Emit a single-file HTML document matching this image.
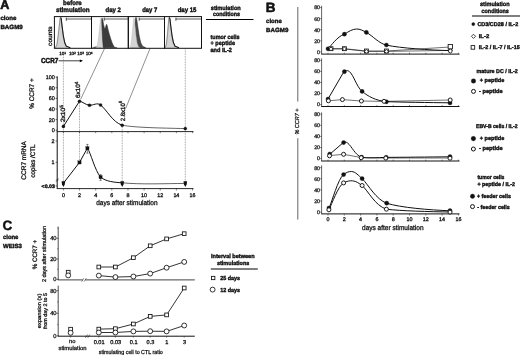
<!DOCTYPE html>
<html lang="en">
<head>
<meta charset="utf-8">
<title>CCR7 expression after stimulation</title>
<style>
html,body{margin:0;padding:0;background:#fff;}
body{width:520px;height:355px;overflow:hidden;}
svg{display:block;font-family:'Liberation Sans', sans-serif;fill:#111;}
svg text{stroke:#111;stroke-width:0.26px;}
svg text.b{stroke-width:0.38px;}
</style>
</head>
<body>
<svg width="520" height="355" viewBox="0 0 520 355" font-family="'Liberation Sans', sans-serif" text-rendering="geometricPrecision">
<rect x="0" y="0" width="520" height="355" fill="#fff"/>
<g id="panelA">
<text x="0.30" y="9.34" font-size="12.6" font-weight="bold" class="b" style="stroke-width:0.6px">A</text>
<text x="0.40" y="20.46" font-size="6" font-weight="bold" class="b" textLength="16" lengthAdjust="spacingAndGlyphs">clone</text>
<text x="0.40" y="28.76" font-size="6" font-weight="bold" class="b" textLength="22.4" lengthAdjust="spacingAndGlyphs">BAGM9</text>
<text x="72.40" y="5.34" font-size="6.5" font-weight="bold" class="b" text-anchor="middle" textLength="18.6" lengthAdjust="spacingAndGlyphs">before</text>
<text x="72.80" y="12.44" font-size="6.5" font-weight="bold" class="b" text-anchor="middle" textLength="33.8" lengthAdjust="spacingAndGlyphs">stimulation</text>
<text x="113.20" y="12.44" font-size="6.5" font-weight="bold" class="b" text-anchor="middle" textLength="15.4" lengthAdjust="spacingAndGlyphs">day 2</text>
<text x="149.80" y="12.44" font-size="6.5" font-weight="bold" class="b" text-anchor="middle" textLength="15.2" lengthAdjust="spacingAndGlyphs">day 7</text>
<text x="187.10" y="12.44" font-size="6.5" font-weight="bold" class="b" text-anchor="middle" textLength="18.8" lengthAdjust="spacingAndGlyphs">day 15</text>
<clipPath id="cb0"><rect x="54.4" y="16.6" width="37.1" height="31.699999999999996"/></clipPath>
<clipPath id="cb1"><rect x="91.5" y="16.6" width="36.80000000000001" height="31.699999999999996"/></clipPath>
<clipPath id="cb2"><rect x="128.3" y="16.6" width="36.19999999999999" height="31.699999999999996"/></clipPath>
<clipPath id="cb3"><rect x="164.5" y="16.6" width="37.0" height="31.699999999999996"/></clipPath>
<path d="M55.10 47.80 L56.70 44.30 L57.90 35.80 L59.00 25.80 L59.80 18.60 L60.30 17.60 L60.80 18.60 L61.60 25.80 L62.80 35.80 L64.10 42.80 L65.50 46.20 L67.30 47.80 Z" fill="#d4d4d4" stroke="#b8b8b8" stroke-width="0.4" stroke-linejoin="round" clip-path="url(#cb0)"/>
<path d="M55.40 47.80 L57.00 44.30 L58.20 35.80 L59.30 25.80 L60.10 18.40 L60.60 17.40 L61.15 18.40 L62.03 25.80 L63.35 35.80 L64.78 42.80 L66.32 46.20 L70.30 47.80" fill="none" stroke="#555" stroke-width="0.5" stroke-linejoin="round" clip-path="url(#cb0)"/>
<path d="M60.60 17.40 L61.15 18.40 L62.03 25.80 L63.35 35.80 L64.78 42.80 L66.32 46.20 L70.30 47.80" fill="none" stroke="#1a1a1a" stroke-width="1.1" stroke-linejoin="round" clip-path="url(#cb0)"/>
<path d="M92.50 47.80 L94.50 46.90 L97.50 46.40 L101.00 46.40 L101.00 47.80 Z" fill="#555" stroke="#444" stroke-width="0.4" stroke-linejoin="round" clip-path="url(#cb1)"/>
<path d="M96.06 47.80 L97.58 44.30 L98.72 35.80 L99.77 25.80 L100.53 18.80 L101.00 17.80 L101.35 18.80 L101.91 25.80 L102.75 35.80 L103.66 42.80 L104.64 46.20 L105.90 47.80 Z" fill="#d4d4d4" stroke="#b8b8b8" stroke-width="0.4" stroke-linejoin="round" clip-path="url(#cb1)"/>
<path d="M103.30 47.80 L102.60 40.00 L102.00 28.00 L101.70 19.50 L102.20 18.00 L102.90 20.50 L103.60 24.50 L104.30 27.50 L104.90 29.00 L105.70 26.60 L106.50 24.20 L107.20 25.60 L108.20 30.00 L109.40 34.50 L110.80 39.00 L112.20 43.00 L113.60 46.00 L115.00 47.40 L117.00 47.80 Z" fill="#3c3c3c" stroke="#2a2a2a" stroke-width="0.5" stroke-linejoin="round" clip-path="url(#cb1)"/>
<path d="M130.80 47.80 L132.40 44.30 L133.60 35.80 L134.70 25.80 L135.50 18.40 L136.00 17.40 L136.62 18.40 L137.62 25.80 L139.12 35.80 L140.75 42.80 L142.50 46.20 L145.75 47.80 Z" fill="#4a4a4a" stroke="#2a2a2a" stroke-width="0.6" stroke-linejoin="round" clip-path="url(#cb2)"/>
<path d="M129.58 47.80 L130.94 44.30 L131.96 35.80 L132.90 25.80 L133.57 18.80 L134.00 17.80 L134.40 18.80 L135.04 25.80 L136.00 35.80 L137.04 42.80 L138.16 46.20 L139.60 47.80 Z" fill="#d4d4d4" stroke="#b8b8b8" stroke-width="0.4" stroke-linejoin="round" clip-path="url(#cb2)"/>
<path d="M164.74 47.80 L166.02 44.30 L166.98 35.80 L167.86 25.80 L168.50 18.80 L168.90 17.80 L169.38 18.80 L170.14 25.80 L171.28 35.80 L172.51 42.80 L173.84 46.20 L175.55 47.80 Z" fill="#d4d4d4" stroke="#b8b8b8" stroke-width="0.4" stroke-linejoin="round" clip-path="url(#cb3)"/>
<path d="M165.14 47.80 L166.42 44.30 L167.38 35.80 L168.26 25.80 L168.90 18.40 L169.30 17.40 L169.85 18.40 L170.73 25.80 L172.05 35.80 L173.48 42.80 L175.02 46.20 L179.00 47.80" fill="none" stroke="#555" stroke-width="0.5" stroke-linejoin="round" clip-path="url(#cb3)"/>
<path d="M169.30 17.40 L169.85 18.40 L170.73 25.80 L172.05 35.80 L173.48 42.80 L175.02 46.20 L179.00 47.80" fill="none" stroke="#1a1a1a" stroke-width="1.1" stroke-linejoin="round" clip-path="url(#cb3)"/>
<line x1="66.30" y1="19.00" x2="91.50" y2="19.00" stroke="#111" stroke-width="0.7"/>
<line x1="66.30" y1="17.60" x2="66.30" y2="20.80" stroke="#111" stroke-width="0.7"/>
<line x1="104.20" y1="19.00" x2="128.30" y2="19.00" stroke="#111" stroke-width="0.7"/>
<line x1="104.20" y1="17.60" x2="104.20" y2="20.80" stroke="#111" stroke-width="0.7"/>
<line x1="139.20" y1="19.00" x2="164.50" y2="19.00" stroke="#111" stroke-width="0.7"/>
<line x1="139.20" y1="17.60" x2="139.20" y2="20.80" stroke="#111" stroke-width="0.7"/>
<line x1="175.90" y1="19.00" x2="201.50" y2="19.00" stroke="#111" stroke-width="0.7"/>
<line x1="175.90" y1="17.60" x2="175.90" y2="20.80" stroke="#111" stroke-width="0.7"/>
<rect x="54.4" y="16.6" width="37.1" height="31.699999999999996" fill="none" stroke="#111" stroke-width="1.0"/>
<rect x="91.5" y="16.6" width="36.80000000000001" height="31.699999999999996" fill="none" stroke="#111" stroke-width="1.0"/>
<rect x="128.3" y="16.6" width="36.19999999999999" height="31.699999999999996" fill="none" stroke="#111" stroke-width="1.0"/>
<rect x="164.5" y="16.6" width="37.0" height="31.699999999999996" fill="none" stroke="#111" stroke-width="1.0"/>
<text transform="translate(49.90 36.20) rotate(-90)" x="0" y="2.16" font-size="6" text-anchor="middle" textLength="19.4" lengthAdjust="spacingAndGlyphs" style="stroke-width:0.3px">counts</text>
<text x="62.70" y="55.26" font-size="4.6" text-anchor="middle" style="stroke-width:0.3px">10<tspan font-size="3.2" dy="-1.6">1</tspan></text>
<text x="72.40" y="55.26" font-size="4.6" text-anchor="middle" style="stroke-width:0.3px">10<tspan font-size="3.2" dy="-1.6">2</tspan></text>
<text x="80.70" y="55.26" font-size="4.6" text-anchor="middle" style="stroke-width:0.3px">10<tspan font-size="3.2" dy="-1.6">3</tspan></text>
<text x="89.20" y="55.26" font-size="4.6" text-anchor="middle" style="stroke-width:0.3px">10<tspan font-size="3.2" dy="-1.6">4</tspan></text>
<text x="41.00" y="63.23" font-size="7.3" font-weight="bold" class="b" textLength="17.3" lengthAdjust="spacingAndGlyphs" style="stroke-width:0.5px">CCR7</text>
<line x1="58.60" y1="60.80" x2="81.60" y2="60.80" stroke="#000" stroke-width="0.75"/>
<path d="M79.8 59.4 L83.0 60.8 L79.8 62.2 Z" fill="#000"/>
<text x="225.80" y="9.56" font-size="6" font-weight="bold" class="b" text-anchor="middle" textLength="30" lengthAdjust="spacingAndGlyphs">stimulation</text>
<text x="226.60" y="16.36" font-size="6" font-weight="bold" class="b" text-anchor="middle" textLength="27" lengthAdjust="spacingAndGlyphs">conditions</text>
<line x1="206.00" y1="19.50" x2="253.50" y2="19.50" stroke="#000" stroke-width="1.2"/>
<text x="210.50" y="38.66" font-size="6" font-weight="bold" class="b" textLength="29" lengthAdjust="spacingAndGlyphs">tumor cells</text>
<text x="210.50" y="45.16" font-size="6" font-weight="bold" class="b" textLength="24.5" lengthAdjust="spacingAndGlyphs">+ peptide</text>
<text x="210.50" y="52.16" font-size="6" font-weight="bold" class="b" textLength="21.5" lengthAdjust="spacingAndGlyphs">and IL-2</text>
<line x1="63.40" y1="55.50" x2="63.40" y2="183.00" stroke="#555" stroke-width="0.6" stroke-dasharray="0.8 0.8"/>
<line x1="79.50" y1="100.00" x2="79.50" y2="162.00" stroke="#555" stroke-width="0.6" stroke-dasharray="0.8 0.8"/>
<line x1="122.20" y1="124.00" x2="122.20" y2="183.00" stroke="#555" stroke-width="0.6" stroke-dasharray="0.8 0.8"/>
<line x1="185.30" y1="49.50" x2="185.30" y2="183.00" stroke="#555" stroke-width="0.6" stroke-dasharray="0.8 0.8"/>
<line x1="104.50" y1="48.60" x2="80.60" y2="99.40" stroke="#333" stroke-width="0.55"/>
<line x1="150.00" y1="48.60" x2="125.60" y2="108.60" stroke="#333" stroke-width="0.55"/>
<line x1="57.20" y1="76.30" x2="57.20" y2="131.60" stroke="#111" stroke-width="1.0"/>
<line x1="56.80" y1="131.60" x2="193.50" y2="131.60" stroke="#111" stroke-width="0.9"/>
<line x1="55.60" y1="130.20" x2="57.20" y2="130.20" stroke="#111" stroke-width="0.6"/>
<text x="54.80" y="132.14" font-size="5.4" text-anchor="end" style="stroke-width:0.3px">0</text>
<line x1="55.60" y1="119.60" x2="57.20" y2="119.60" stroke="#111" stroke-width="0.6"/>
<text x="54.80" y="121.54" font-size="5.4" text-anchor="end" style="stroke-width:0.3px">20</text>
<line x1="55.60" y1="109.00" x2="57.20" y2="109.00" stroke="#111" stroke-width="0.6"/>
<text x="54.80" y="110.94" font-size="5.4" text-anchor="end" style="stroke-width:0.3px">40</text>
<line x1="55.60" y1="98.40" x2="57.20" y2="98.40" stroke="#111" stroke-width="0.6"/>
<text x="54.80" y="100.34" font-size="5.4" text-anchor="end" style="stroke-width:0.3px">60</text>
<line x1="55.60" y1="87.80" x2="57.20" y2="87.80" stroke="#111" stroke-width="0.6"/>
<text x="54.80" y="89.74" font-size="5.4" text-anchor="end" style="stroke-width:0.3px">80</text>
<line x1="55.60" y1="77.20" x2="57.20" y2="77.20" stroke="#111" stroke-width="0.6"/>
<text x="54.80" y="79.14" font-size="5.4" text-anchor="end" style="stroke-width:0.3px">100</text>
<line x1="63.40" y1="131.60" x2="63.40" y2="133.20" stroke="#111" stroke-width="0.5"/>
<line x1="79.54" y1="131.60" x2="79.54" y2="133.20" stroke="#111" stroke-width="0.5"/>
<line x1="95.68" y1="131.60" x2="95.68" y2="133.20" stroke="#111" stroke-width="0.5"/>
<line x1="111.82" y1="131.60" x2="111.82" y2="133.20" stroke="#111" stroke-width="0.5"/>
<line x1="127.96" y1="131.60" x2="127.96" y2="133.20" stroke="#111" stroke-width="0.5"/>
<line x1="144.10" y1="131.60" x2="144.10" y2="133.20" stroke="#111" stroke-width="0.5"/>
<line x1="160.24" y1="131.60" x2="160.24" y2="133.20" stroke="#111" stroke-width="0.5"/>
<line x1="176.38" y1="131.60" x2="176.38" y2="133.20" stroke="#111" stroke-width="0.5"/>
<line x1="192.52" y1="131.60" x2="192.52" y2="133.20" stroke="#111" stroke-width="0.5"/>
<text transform="translate(31.20 93.60) rotate(-90)" x="0" y="2.38" font-size="6.6" text-anchor="middle" textLength="30.5" lengthAdjust="spacingAndGlyphs" style="stroke-width:0.3px">% CCR7 +</text>
<path d="M63.4 126.4 L79.5 101.2 C82.5 101.6 85.5 104.9 89.5 105.2 C93.5 105.5 97.0 102.2 100.6 105.0 C107.0 110.0 112.5 122.2 122.2 125.2" stroke="#111" stroke-width="1.0" fill="none"/>
<path d="M122.2 125.2 C135.0 127.6 160.0 128.0 185.3 128.6" stroke="#111" stroke-width="0.65" fill="none"/>
<circle cx="63.40" cy="126.40" r="1.55" fill="#111" stroke="#111" stroke-width="0.3"/>
<circle cx="79.50" cy="101.20" r="1.55" fill="#111" stroke="#111" stroke-width="0.3"/>
<circle cx="89.50" cy="105.20" r="1.55" fill="#111" stroke="#111" stroke-width="0.3"/>
<circle cx="100.60" cy="105.00" r="1.55" fill="#111" stroke="#111" stroke-width="0.3"/>
<circle cx="122.20" cy="125.20" r="1.55" fill="#111" stroke="#111" stroke-width="0.3"/>
<circle cx="185.30" cy="128.60" r="1.55" fill="#111" stroke="#111" stroke-width="0.3"/>
<text transform="translate(63.00 113.60) rotate(-90)" x="0" y="2.23" font-size="6.2" text-anchor="middle" textLength="17" lengthAdjust="spacingAndGlyphs" style="stroke-width:0.3px">2x10<tspan font-size="4.6" dy="-2.5">5</tspan></text>
<text transform="translate(78.20 89.80) rotate(-90)" x="0" y="2.23" font-size="6.2" text-anchor="middle" textLength="16.6" lengthAdjust="spacingAndGlyphs" style="stroke-width:0.3px">6x10<tspan font-size="4.6" dy="-2.5">4</tspan></text>
<text transform="translate(122.60 111.00) rotate(-90)" x="0" y="2.23" font-size="6.2" text-anchor="middle" textLength="20.4" lengthAdjust="spacingAndGlyphs" style="stroke-width:0.3px">2.8x10<tspan font-size="4.6" dy="-2.5">6</tspan></text>
<line x1="57.20" y1="131.60" x2="57.20" y2="188.60" stroke="#111" stroke-width="1.0"/>
<line x1="56.80" y1="188.60" x2="193.50" y2="188.60" stroke="#111" stroke-width="0.9"/>
<line x1="55.60" y1="141.00" x2="57.20" y2="141.00" stroke="#111" stroke-width="0.6"/>
<text x="54.60" y="142.94" font-size="5.4" text-anchor="end" style="stroke-width:0.3px">2</text>
<line x1="55.60" y1="162.30" x2="57.20" y2="162.30" stroke="#111" stroke-width="0.6"/>
<text x="54.60" y="164.24" font-size="5.4" text-anchor="end" style="stroke-width:0.3px">1</text>
<line x1="55.60" y1="186.00" x2="57.20" y2="186.00" stroke="#111" stroke-width="0.6"/>
<text x="54.80" y="187.80" font-size="5.0" font-weight="bold" class="b" text-anchor="end" textLength="13.2" lengthAdjust="spacingAndGlyphs">&lt;0.03</text>
<line x1="55.80" y1="180.40" x2="58.60" y2="178.60" stroke="#111" stroke-width="0.5"/>
<line x1="55.80" y1="181.60" x2="58.60" y2="179.80" stroke="#111" stroke-width="0.5"/>
<line x1="63.40" y1="188.60" x2="63.40" y2="190.50" stroke="#111" stroke-width="0.5"/>
<text x="63.40" y="196.94" font-size="5.4" text-anchor="middle" style="stroke-width:0.3px">0</text>
<line x1="79.54" y1="188.60" x2="79.54" y2="190.50" stroke="#111" stroke-width="0.5"/>
<text x="79.54" y="196.94" font-size="5.4" text-anchor="middle" style="stroke-width:0.3px">2</text>
<line x1="95.68" y1="188.60" x2="95.68" y2="190.50" stroke="#111" stroke-width="0.5"/>
<text x="95.68" y="196.94" font-size="5.4" text-anchor="middle" style="stroke-width:0.3px">4</text>
<line x1="111.82" y1="188.60" x2="111.82" y2="190.50" stroke="#111" stroke-width="0.5"/>
<text x="111.82" y="196.94" font-size="5.4" text-anchor="middle" style="stroke-width:0.3px">6</text>
<line x1="127.96" y1="188.60" x2="127.96" y2="190.50" stroke="#111" stroke-width="0.5"/>
<text x="127.96" y="196.94" font-size="5.4" text-anchor="middle" style="stroke-width:0.3px">8</text>
<line x1="144.10" y1="188.60" x2="144.10" y2="190.50" stroke="#111" stroke-width="0.5"/>
<text x="144.10" y="196.94" font-size="5.4" text-anchor="middle" style="stroke-width:0.3px">10</text>
<line x1="160.24" y1="188.60" x2="160.24" y2="190.50" stroke="#111" stroke-width="0.5"/>
<text x="160.24" y="196.94" font-size="5.4" text-anchor="middle" style="stroke-width:0.3px">12</text>
<line x1="176.38" y1="188.60" x2="176.38" y2="190.50" stroke="#111" stroke-width="0.5"/>
<text x="176.38" y="196.94" font-size="5.4" text-anchor="middle" style="stroke-width:0.3px">14</text>
<line x1="192.52" y1="188.60" x2="192.52" y2="190.50" stroke="#111" stroke-width="0.5"/>
<text x="192.52" y="196.94" font-size="5.4" text-anchor="middle" style="stroke-width:0.3px">16</text>
<text x="126.90" y="204.72" font-size="7" text-anchor="middle" textLength="61.4" lengthAdjust="spacingAndGlyphs" style="stroke-width:0.3px">days after stimulation</text>
<text transform="translate(23.50 160.40) rotate(-90)" x="0" y="2.38" font-size="6.6" text-anchor="middle" textLength="38.5" lengthAdjust="spacingAndGlyphs" style="stroke-width:0.3px">CCR7  mRNA</text>
<text transform="translate(32.30 161.00) rotate(-90)" x="0" y="2.38" font-size="6.6" text-anchor="middle" textLength="33" lengthAdjust="spacingAndGlyphs" style="stroke-width:0.3px">copies /CTL</text>
<path d="M63.4 183.2 L79.5 162.4 L87.4 148.2 C90.5 152.0 95.0 171.0 100.6 177.1 C106.0 181.6 114.0 182.3 122.2 182.8" stroke="#111" stroke-width="1.0" fill="none"/>
<path d="M122.2 182.8 C140.0 184.6 165.0 183.6 185.3 183.4" stroke="#111" stroke-width="0.65" fill="none"/>
<line x1="87.40" y1="144.40" x2="87.40" y2="153.20" stroke="#111" stroke-width="0.5"/>
<line x1="86.30" y1="144.40" x2="88.50" y2="144.40" stroke="#111" stroke-width="0.5"/>
<line x1="86.30" y1="153.20" x2="88.50" y2="153.20" stroke="#111" stroke-width="0.5"/>
<line x1="100.60" y1="174.60" x2="100.60" y2="180.40" stroke="#111" stroke-width="0.5"/>
<line x1="99.60" y1="174.60" x2="101.60" y2="174.60" stroke="#111" stroke-width="0.5"/>
<line x1="99.60" y1="180.40" x2="101.60" y2="180.40" stroke="#111" stroke-width="0.5"/>
<rect x="77.85" y="160.75" width="3.3" height="3.3" fill="#111" stroke="#111" stroke-width="0.2"/>
<rect x="85.75" y="146.55" width="3.3" height="3.3" fill="#111" stroke="#111" stroke-width="0.2"/>
<rect x="98.95" y="175.45" width="3.3" height="3.3" fill="#111" stroke="#111" stroke-width="0.2"/>
<path d="M61.60 181.2 L65.20 181.2 L64.80 184.2 L63.40 187.0 L62.00 184.2 Z" fill="#111"/>
<path d="M120.40 181.2 L124.00 181.2 L123.60 184.2 L122.20 187.0 L120.80 184.2 Z" fill="#111"/>
<path d="M183.50 181.2 L187.10 181.2 L186.70 184.2 L185.30 187.0 L183.90 184.2 Z" fill="#111"/>
</g>
<g id="panelB">
<text x="265.70" y="12.06" font-size="13.5" font-weight="bold" class="b" style="stroke-width:0.55px">B</text>
<text x="266.10" y="23.46" font-size="6" font-weight="bold" class="b" textLength="15.7" lengthAdjust="spacingAndGlyphs">clone</text>
<text x="266.10" y="31.66" font-size="6" font-weight="bold" class="b" textLength="22.3" lengthAdjust="spacingAndGlyphs">BAGM9</text>
<line x1="297.80" y1="7.00" x2="297.80" y2="101.60" stroke="#333" stroke-width="0.75"/>
<line x1="297.80" y1="138.20" x2="297.80" y2="219.60" stroke="#333" stroke-width="0.75"/>
<text transform="translate(297.20 121.60) rotate(-90)" x="0" y="2.09" font-size="5.8" text-anchor="middle" textLength="26" lengthAdjust="spacingAndGlyphs" font-style="italic">% CCR7 +</text>
<line x1="321.60" y1="5.80" x2="321.60" y2="54.10" stroke="#222" stroke-width="0.7"/>
<line x1="321.20" y1="54.10" x2="459.50" y2="54.10" stroke="#111" stroke-width="1.0"/>
<line x1="320.20" y1="52.00" x2="321.60" y2="52.00" stroke="#111" stroke-width="0.6"/>
<text x="320.00" y="53.87" font-size="5.2" text-anchor="end" style="stroke-width:0.25px">0</text>
<line x1="320.20" y1="40.90" x2="321.60" y2="40.90" stroke="#111" stroke-width="0.6"/>
<text x="320.00" y="42.77" font-size="5.2" text-anchor="end" style="stroke-width:0.25px">20</text>
<line x1="320.20" y1="29.80" x2="321.60" y2="29.80" stroke="#111" stroke-width="0.6"/>
<text x="320.00" y="31.67" font-size="5.2" text-anchor="end" style="stroke-width:0.25px">40</text>
<line x1="320.20" y1="18.70" x2="321.60" y2="18.70" stroke="#111" stroke-width="0.6"/>
<text x="320.00" y="20.57" font-size="5.2" text-anchor="end" style="stroke-width:0.25px">60</text>
<line x1="320.20" y1="7.60" x2="321.60" y2="7.60" stroke="#111" stroke-width="0.6"/>
<text x="320.00" y="9.47" font-size="5.2" text-anchor="end" style="stroke-width:0.25px">80</text>
<line x1="328.00" y1="54.10" x2="328.00" y2="52.70" stroke="#111" stroke-width="0.5"/>
<line x1="344.30" y1="54.10" x2="344.30" y2="52.70" stroke="#111" stroke-width="0.5"/>
<line x1="360.60" y1="54.10" x2="360.60" y2="52.70" stroke="#111" stroke-width="0.5"/>
<line x1="376.90" y1="54.10" x2="376.90" y2="52.70" stroke="#111" stroke-width="0.5"/>
<line x1="393.20" y1="54.10" x2="393.20" y2="52.70" stroke="#111" stroke-width="0.5"/>
<line x1="409.50" y1="54.10" x2="409.50" y2="52.70" stroke="#111" stroke-width="0.5"/>
<line x1="425.80" y1="54.10" x2="425.80" y2="52.70" stroke="#111" stroke-width="0.5"/>
<line x1="442.10" y1="54.10" x2="442.10" y2="52.70" stroke="#111" stroke-width="0.5"/>
<line x1="458.40" y1="54.10" x2="458.40" y2="52.70" stroke="#111" stroke-width="0.5"/>
<path d="M328.0 48.8 C331 46.0 337 36.6 344.4 34.2 C349 31.4 352 29.2 356.5 29.0 C360 28.9 363 30.6 366.4 32.4 C373 36.0 379 43.6 386.7 45.2 C400 48.0 430 50.2 450.0 50.6" stroke="#111" stroke-width="1.0" fill="none"/>
<path d="M331.0 48.7 L344.4 48.7 L366.4 51.0 L386.7 51.0 L450.0 47.0" stroke="#111" stroke-width="0.6" fill="none"/>
<path d="M331.0 48.9 L344.4 48.9 L366.4 51.4 L386.7 51.4 L450.0 50.4" stroke="#111" stroke-width="0.6" fill="none"/>
<circle cx="328.00" cy="48.80" r="2.1" fill="#111" stroke="#111" stroke-width="0.3"/>
<circle cx="344.40" cy="34.20" r="2.1" fill="#111" stroke="#111" stroke-width="0.3"/>
<circle cx="366.40" cy="32.40" r="2.1" fill="#111" stroke="#111" stroke-width="0.3"/>
<circle cx="386.40" cy="45.00" r="2.1" fill="#111" stroke="#111" stroke-width="0.3"/>
<circle cx="450.20" cy="50.80" r="2.1" fill="#111" stroke="#111" stroke-width="0.3"/>
<rect x="342.45" y="46.75" width="3.9" height="3.9" fill="#fff" stroke="#111" stroke-width="0.85"/>
<rect x="364.45" y="49.05" width="3.9" height="3.9" fill="#fff" stroke="#111" stroke-width="0.85"/>
<rect x="384.45" y="49.05" width="3.9" height="3.9" fill="#fff" stroke="#111" stroke-width="0.85"/>
<rect x="448.15" y="44.55" width="4.3" height="4.3" fill="#fff" stroke="#111" stroke-width="0.85"/>
<rect x="329.05" y="46.75" width="3.9" height="3.9" fill="#fff" stroke="#111" stroke-width="0.85"/>
<path d="M331.00 47.00 L332.90 48.90 L331.00 50.80 L329.10 48.90 Z" fill="#fff" stroke="#111" stroke-width="0.8"/>
<path d="M344.40 47.00 L346.30 48.90 L344.40 50.80 L342.50 48.90 Z" fill="#fff" stroke="#111" stroke-width="0.8"/>
<path d="M366.40 49.50 L368.30 51.40 L366.40 53.30 L364.50 51.40 Z" fill="#fff" stroke="#111" stroke-width="0.8"/>
<path d="M386.40 49.50 L388.30 51.40 L386.40 53.30 L384.50 51.40 Z" fill="#fff" stroke="#111" stroke-width="0.8"/>
<path d="M450.30 48.80 L452.50 51.00 L450.30 53.20 L448.10 51.00 Z" fill="#fff" stroke="#111" stroke-width="0.8"/>
<line x1="321.60" y1="58.40" x2="321.60" y2="106.50" stroke="#222" stroke-width="0.7"/>
<line x1="321.20" y1="106.50" x2="459.50" y2="106.50" stroke="#111" stroke-width="1.0"/>
<line x1="320.20" y1="104.60" x2="321.60" y2="104.60" stroke="#111" stroke-width="0.6"/>
<text x="320.00" y="106.47" font-size="5.2" text-anchor="end" style="stroke-width:0.25px">0</text>
<line x1="320.20" y1="93.52" x2="321.60" y2="93.52" stroke="#111" stroke-width="0.6"/>
<text x="320.00" y="95.40" font-size="5.2" text-anchor="end" style="stroke-width:0.25px">20</text>
<line x1="320.20" y1="82.45" x2="321.60" y2="82.45" stroke="#111" stroke-width="0.6"/>
<text x="320.00" y="84.32" font-size="5.2" text-anchor="end" style="stroke-width:0.25px">40</text>
<line x1="320.20" y1="71.38" x2="321.60" y2="71.38" stroke="#111" stroke-width="0.6"/>
<text x="320.00" y="73.25" font-size="5.2" text-anchor="end" style="stroke-width:0.25px">60</text>
<line x1="320.20" y1="60.30" x2="321.60" y2="60.30" stroke="#111" stroke-width="0.6"/>
<text x="320.00" y="62.17" font-size="5.2" text-anchor="end" style="stroke-width:0.25px">80</text>
<line x1="328.00" y1="106.50" x2="328.00" y2="105.10" stroke="#111" stroke-width="0.5"/>
<line x1="344.30" y1="106.50" x2="344.30" y2="105.10" stroke="#111" stroke-width="0.5"/>
<line x1="360.60" y1="106.50" x2="360.60" y2="105.10" stroke="#111" stroke-width="0.5"/>
<line x1="376.90" y1="106.50" x2="376.90" y2="105.10" stroke="#111" stroke-width="0.5"/>
<line x1="393.20" y1="106.50" x2="393.20" y2="105.10" stroke="#111" stroke-width="0.5"/>
<line x1="409.50" y1="106.50" x2="409.50" y2="105.10" stroke="#111" stroke-width="0.5"/>
<line x1="425.80" y1="106.50" x2="425.80" y2="105.10" stroke="#111" stroke-width="0.5"/>
<line x1="442.10" y1="106.50" x2="442.10" y2="105.10" stroke="#111" stroke-width="0.5"/>
<line x1="458.40" y1="106.50" x2="458.40" y2="105.10" stroke="#111" stroke-width="0.5"/>
<path d="M328.0 99.0 L343.0 73.2 C344.6 70.6 347.0 69.8 349.2 71.4 C353.6 74.8 356.5 86.6 362.1 91.4 C368 96.4 376 100.6 386.0 101.6 C400 102.2 430 102.6 450.0 102.8" stroke="#111" stroke-width="1.0" fill="none"/>
<path d="M328.4 100.8 L342.4 99.6 L361.4 101.0 L384.2 101.4 L450.2 100.0" stroke="#111" stroke-width="0.6" fill="none"/>
<circle cx="328.00" cy="99.00" r="2.1" fill="#111" stroke="#111" stroke-width="0.3"/>
<circle cx="344.40" cy="71.70" r="2.1" fill="#111" stroke="#111" stroke-width="0.3"/>
<circle cx="362.10" cy="91.40" r="2.1" fill="#111" stroke="#111" stroke-width="0.3"/>
<circle cx="386.40" cy="101.80" r="2.1" fill="#111" stroke="#111" stroke-width="0.3"/>
<circle cx="450.00" cy="102.90" r="2.1" fill="#111" stroke="#111" stroke-width="0.3"/>
<circle cx="328.40" cy="100.80" r="2.0" fill="#fff" stroke="#111" stroke-width="0.95"/>
<circle cx="342.40" cy="99.60" r="2.0" fill="#fff" stroke="#111" stroke-width="0.95"/>
<circle cx="361.40" cy="101.00" r="2.0" fill="#fff" stroke="#111" stroke-width="0.95"/>
<circle cx="384.00" cy="101.30" r="2.0" fill="#fff" stroke="#111" stroke-width="0.95"/>
<circle cx="450.20" cy="100.00" r="2.0" fill="#fff" stroke="#111" stroke-width="0.95"/>
<line x1="321.60" y1="112.40" x2="321.60" y2="161.00" stroke="#222" stroke-width="0.7"/>
<line x1="321.20" y1="161.00" x2="459.50" y2="161.00" stroke="#111" stroke-width="1.0"/>
<line x1="320.20" y1="158.60" x2="321.60" y2="158.60" stroke="#111" stroke-width="0.6"/>
<text x="320.00" y="160.47" font-size="5.2" text-anchor="end" style="stroke-width:0.25px">0</text>
<line x1="320.20" y1="147.50" x2="321.60" y2="147.50" stroke="#111" stroke-width="0.6"/>
<text x="320.00" y="149.37" font-size="5.2" text-anchor="end" style="stroke-width:0.25px">20</text>
<line x1="320.20" y1="136.40" x2="321.60" y2="136.40" stroke="#111" stroke-width="0.6"/>
<text x="320.00" y="138.27" font-size="5.2" text-anchor="end" style="stroke-width:0.25px">40</text>
<line x1="320.20" y1="125.30" x2="321.60" y2="125.30" stroke="#111" stroke-width="0.6"/>
<text x="320.00" y="127.17" font-size="5.2" text-anchor="end" style="stroke-width:0.25px">60</text>
<line x1="320.20" y1="114.20" x2="321.60" y2="114.20" stroke="#111" stroke-width="0.6"/>
<text x="320.00" y="116.07" font-size="5.2" text-anchor="end" style="stroke-width:0.25px">80</text>
<line x1="328.00" y1="161.00" x2="328.00" y2="159.60" stroke="#111" stroke-width="0.5"/>
<line x1="344.30" y1="161.00" x2="344.30" y2="159.60" stroke="#111" stroke-width="0.5"/>
<line x1="360.60" y1="161.00" x2="360.60" y2="159.60" stroke="#111" stroke-width="0.5"/>
<line x1="376.90" y1="161.00" x2="376.90" y2="159.60" stroke="#111" stroke-width="0.5"/>
<line x1="393.20" y1="161.00" x2="393.20" y2="159.60" stroke="#111" stroke-width="0.5"/>
<line x1="409.50" y1="161.00" x2="409.50" y2="159.60" stroke="#111" stroke-width="0.5"/>
<line x1="425.80" y1="161.00" x2="425.80" y2="159.60" stroke="#111" stroke-width="0.5"/>
<line x1="442.10" y1="161.00" x2="442.10" y2="159.60" stroke="#111" stroke-width="0.5"/>
<line x1="458.40" y1="161.00" x2="458.40" y2="159.60" stroke="#111" stroke-width="0.5"/>
<path d="M329.7 154.3 L342.6 143.2 C344.2 141.9 346.2 141.8 347.6 143.0 C352.0 146.6 355 154.8 361.4 157.3 C368 158.4 378 157.6 386.0 157.4 C400 157.3 430 157.0 450.0 156.8" stroke="#111" stroke-width="1.0" fill="none"/>
<path d="M329.7 155.6 L343.6 154.3 L361.4 157.6 L386.0 158.0 L450.0 158.0" stroke="#111" stroke-width="0.6" fill="none"/>
<circle cx="329.70" cy="154.00" r="2.1" fill="#111" stroke="#111" stroke-width="0.3"/>
<circle cx="343.60" cy="142.60" r="2.1" fill="#111" stroke="#111" stroke-width="0.3"/>
<circle cx="361.60" cy="157.20" r="2.1" fill="#111" stroke="#111" stroke-width="0.3"/>
<circle cx="386.20" cy="157.30" r="2.1" fill="#111" stroke="#111" stroke-width="0.3"/>
<circle cx="450.00" cy="156.60" r="2.1" fill="#111" stroke="#111" stroke-width="0.3"/>
<circle cx="329.50" cy="155.80" r="2.0" fill="#fff" stroke="#111" stroke-width="0.95"/>
<circle cx="343.60" cy="154.30" r="2.0" fill="#fff" stroke="#111" stroke-width="0.95"/>
<circle cx="361.20" cy="157.70" r="2.0" fill="#fff" stroke="#111" stroke-width="0.95"/>
<circle cx="385.80" cy="158.10" r="2.0" fill="#fff" stroke="#111" stroke-width="0.95"/>
<circle cx="450.00" cy="158.20" r="2.0" fill="#fff" stroke="#111" stroke-width="0.95"/>
<line x1="321.60" y1="165.40" x2="321.60" y2="213.90" stroke="#222" stroke-width="0.7"/>
<line x1="321.20" y1="213.90" x2="459.50" y2="213.90" stroke="#111" stroke-width="1.0"/>
<line x1="320.20" y1="212.10" x2="321.60" y2="212.10" stroke="#111" stroke-width="0.6"/>
<text x="320.00" y="213.97" font-size="5.2" text-anchor="end" style="stroke-width:0.25px">0</text>
<line x1="320.20" y1="201.00" x2="321.60" y2="201.00" stroke="#111" stroke-width="0.6"/>
<text x="320.00" y="202.87" font-size="5.2" text-anchor="end" style="stroke-width:0.25px">20</text>
<line x1="320.20" y1="189.90" x2="321.60" y2="189.90" stroke="#111" stroke-width="0.6"/>
<text x="320.00" y="191.77" font-size="5.2" text-anchor="end" style="stroke-width:0.25px">40</text>
<line x1="320.20" y1="178.80" x2="321.60" y2="178.80" stroke="#111" stroke-width="0.6"/>
<text x="320.00" y="180.67" font-size="5.2" text-anchor="end" style="stroke-width:0.25px">60</text>
<line x1="320.20" y1="167.70" x2="321.60" y2="167.70" stroke="#111" stroke-width="0.6"/>
<text x="320.00" y="169.57" font-size="5.2" text-anchor="end" style="stroke-width:0.25px">80</text>
<line x1="328.00" y1="213.90" x2="328.00" y2="215.50" stroke="#111" stroke-width="0.5"/>
<line x1="344.30" y1="213.90" x2="344.30" y2="215.50" stroke="#111" stroke-width="0.5"/>
<line x1="360.60" y1="213.90" x2="360.60" y2="215.50" stroke="#111" stroke-width="0.5"/>
<line x1="376.90" y1="213.90" x2="376.90" y2="215.50" stroke="#111" stroke-width="0.5"/>
<line x1="393.20" y1="213.90" x2="393.20" y2="215.50" stroke="#111" stroke-width="0.5"/>
<line x1="409.50" y1="213.90" x2="409.50" y2="215.50" stroke="#111" stroke-width="0.5"/>
<line x1="425.80" y1="213.90" x2="425.80" y2="215.50" stroke="#111" stroke-width="0.5"/>
<line x1="442.10" y1="213.90" x2="442.10" y2="215.50" stroke="#111" stroke-width="0.5"/>
<line x1="458.40" y1="213.90" x2="458.40" y2="215.50" stroke="#111" stroke-width="0.5"/>
<path d="M328.9 208.3 C332 202.0 338 178.6 343.6 174.6 C346.5 172.2 349 171.4 351.5 171.5 C355.5 171.7 358.5 175.6 362.1 178.6 C369 185.6 376 199.4 386.7 203.2 C400 207.6 430 210.0 450.0 210.8" stroke="#111" stroke-width="1.0" fill="none"/>
<path d="M328.9 209.6 C332 204.0 338 186.0 343.6 182.9 C347 181.0 350 180.6 352.5 180.8 C356.5 181.2 359 183.4 362.1 185.5 C368 190.6 375 205.6 386.4 209.2 C400 210.9 430 211.7 450.0 212.0" stroke="#111" stroke-width="1.0" fill="none"/>
<circle cx="328.90" cy="208.00" r="2.1" fill="#111" stroke="#111" stroke-width="0.3"/>
<circle cx="343.60" cy="174.60" r="2.1" fill="#111" stroke="#111" stroke-width="0.3"/>
<circle cx="362.10" cy="178.60" r="2.1" fill="#111" stroke="#111" stroke-width="0.3"/>
<circle cx="386.70" cy="203.20" r="2.1" fill="#111" stroke="#111" stroke-width="0.3"/>
<circle cx="450.00" cy="210.60" r="2.1" fill="#111" stroke="#111" stroke-width="0.3"/>
<circle cx="328.90" cy="209.80" r="2.0" fill="#fff" stroke="#111" stroke-width="0.95"/>
<circle cx="343.60" cy="182.90" r="2.0" fill="#fff" stroke="#111" stroke-width="0.95"/>
<circle cx="362.10" cy="185.50" r="2.0" fill="#fff" stroke="#111" stroke-width="0.95"/>
<circle cx="386.40" cy="209.20" r="2.0" fill="#fff" stroke="#111" stroke-width="0.95"/>
<circle cx="450.00" cy="212.10" r="2.0" fill="#fff" stroke="#111" stroke-width="0.95"/>
<text x="328.00" y="221.14" font-size="5.4" text-anchor="middle" style="stroke-width:0.3px">0</text>
<text x="344.30" y="221.14" font-size="5.4" text-anchor="middle" style="stroke-width:0.3px">2</text>
<text x="360.60" y="221.14" font-size="5.4" text-anchor="middle" style="stroke-width:0.3px">4</text>
<text x="376.90" y="221.14" font-size="5.4" text-anchor="middle" style="stroke-width:0.3px">6</text>
<text x="393.20" y="221.14" font-size="5.4" text-anchor="middle" style="stroke-width:0.3px">8</text>
<text x="409.50" y="221.14" font-size="5.4" text-anchor="middle" style="stroke-width:0.3px">10</text>
<text x="425.80" y="221.14" font-size="5.4" text-anchor="middle" style="stroke-width:0.3px">12</text>
<text x="442.10" y="221.14" font-size="5.4" text-anchor="middle" style="stroke-width:0.3px">14</text>
<text x="458.40" y="221.14" font-size="5.4" text-anchor="middle" style="stroke-width:0.3px">16</text>
<text x="392.80" y="229.52" font-size="7" text-anchor="middle" textLength="61.5" lengthAdjust="spacingAndGlyphs" style="stroke-width:0.3px">days after stimulation</text>
<text x="494.80" y="6.26" font-size="6.0" font-weight="bold" class="b" text-anchor="middle" textLength="29.5" lengthAdjust="spacingAndGlyphs">stimulation</text>
<text x="495.20" y="12.96" font-size="6.0" font-weight="bold" class="b" text-anchor="middle" textLength="27.2" lengthAdjust="spacingAndGlyphs">conditions</text>
<line x1="472.00" y1="16.00" x2="520.00" y2="16.00" stroke="#000" stroke-width="1.2"/>
<circle cx="473.30" cy="24.10" r="1.6" fill="#111" stroke="#111" stroke-width="0.3"/>
<text x="477.40" y="26.12" font-size="5.6" font-weight="bold" class="b" textLength="40.8" lengthAdjust="spacingAndGlyphs">CD3/CD28 / IL-2</text>
<path d="M473.50 34.20 L475.60 36.30 L473.50 38.40 L471.40 36.30 Z" fill="#fff" stroke="#111" stroke-width="0.8"/>
<text x="478.70" y="38.02" font-size="5.6" font-weight="bold" class="b" textLength="10.5" lengthAdjust="spacingAndGlyphs">IL-2</text>
<rect x="471.10" y="45.60" width="3.6" height="3.6" fill="#fff" stroke="#111" stroke-width="0.85"/>
<text x="478.70" y="49.22" font-size="5.6" font-weight="bold" class="b" textLength="41" lengthAdjust="spacingAndGlyphs">IL-2 / IL-7 / IL-15</text>
<text x="497.20" y="72.62" font-size="5.6" font-weight="bold" class="b" text-anchor="middle" textLength="41.2" lengthAdjust="spacingAndGlyphs">mature DC / IL-2</text>
<circle cx="473.50" cy="81.00" r="2.3" fill="#111" stroke="#111" stroke-width="0.3"/>
<text x="479.80" y="82.32" font-size="5.6" font-weight="bold" class="b" textLength="24.5" lengthAdjust="spacingAndGlyphs">+ peptide</text>
<circle cx="473.50" cy="91.40" r="2.0" fill="#fff" stroke="#111" stroke-width="1.0"/>
<text x="479.00" y="92.82" font-size="5.6" font-weight="bold" class="b" textLength="23.6" lengthAdjust="spacingAndGlyphs">- peptide</text>
<text x="496.80" y="128.02" font-size="5.6" font-weight="bold" class="b" text-anchor="middle" textLength="41.5" lengthAdjust="spacingAndGlyphs">EBV-B cells / IL-2</text>
<circle cx="473.40" cy="138.60" r="2.3" fill="#111" stroke="#111" stroke-width="0.3"/>
<text x="479.80" y="139.52" font-size="5.6" font-weight="bold" class="b" textLength="24.5" lengthAdjust="spacingAndGlyphs">+ peptide</text>
<circle cx="473.40" cy="149.00" r="2.0" fill="#fff" stroke="#111" stroke-width="1.0"/>
<text x="479.00" y="150.02" font-size="5.6" font-weight="bold" class="b" textLength="23.6" lengthAdjust="spacingAndGlyphs">- peptide</text>
<text x="477.40" y="179.22" font-size="5.6" font-weight="bold" class="b" textLength="27" lengthAdjust="spacingAndGlyphs">tumor cells</text>
<text x="477.40" y="186.32" font-size="5.6" font-weight="bold" class="b" textLength="37.5" lengthAdjust="spacingAndGlyphs">+ peptide / IL-2</text>
<circle cx="472.50" cy="196.20" r="2.2" fill="#111" stroke="#111" stroke-width="0.3"/>
<text x="476.90" y="198.02" font-size="5.6" font-weight="bold" class="b" textLength="34" lengthAdjust="spacingAndGlyphs">+ feeder cells</text>
<circle cx="472.50" cy="206.60" r="2.0" fill="#fff" stroke="#111" stroke-width="1.0"/>
<text x="477.20" y="208.62" font-size="5.6" font-weight="bold" class="b" textLength="32.6" lengthAdjust="spacingAndGlyphs">- feeder cells</text>
</g>
<g id="panelC">
<text x="2.60" y="230.46" font-size="13.5" font-weight="bold" class="b">C</text>
<text x="3.00" y="239.46" font-size="6" font-weight="bold" class="b" textLength="15.4" lengthAdjust="spacingAndGlyphs">clone</text>
<text x="3.00" y="247.76" font-size="6" font-weight="bold" class="b" textLength="19" lengthAdjust="spacingAndGlyphs">WEIS3</text>
<line x1="58.20" y1="226.60" x2="58.20" y2="279.90" stroke="#222" stroke-width="0.8"/>
<line x1="57.80" y1="279.90" x2="194.80" y2="279.90" stroke="#222" stroke-width="0.85"/>
<line x1="56.80" y1="238.40" x2="58.20" y2="238.40" stroke="#111" stroke-width="0.6"/>
<text x="56.60" y="240.49" font-size="5.8" text-anchor="end" style="stroke-width:0.28px">40</text>
<line x1="56.80" y1="259.00" x2="58.20" y2="259.00" stroke="#111" stroke-width="0.6"/>
<text x="56.60" y="261.09" font-size="5.8" text-anchor="end" style="stroke-width:0.28px">20</text>
<line x1="56.80" y1="279.40" x2="58.20" y2="279.40" stroke="#111" stroke-width="0.6"/>
<text x="56.60" y="281.49" font-size="5.8" text-anchor="end" style="stroke-width:0.28px">0</text>
<line x1="57.20" y1="248.70" x2="58.20" y2="248.70" stroke="#111" stroke-width="0.5"/>
<line x1="57.20" y1="269.30" x2="58.20" y2="269.30" stroke="#111" stroke-width="0.5"/>
<line x1="57.20" y1="228.10" x2="58.20" y2="228.10" stroke="#111" stroke-width="0.5"/>
<rect x="82.7" y="278.7" width="2.6" height="2.4" fill="#fff"/>
<line x1="81.70" y1="281.60" x2="83.90" y2="278.20" stroke="#111" stroke-width="0.55"/>
<line x1="84.10" y1="281.60" x2="86.30" y2="278.20" stroke="#111" stroke-width="0.55"/>
<rect x="86.3" y="335.0" width="2.6" height="2.4" fill="#fff"/>
<line x1="85.30" y1="337.90" x2="87.50" y2="334.50" stroke="#111" stroke-width="0.55"/>
<line x1="87.70" y1="337.90" x2="89.90" y2="334.50" stroke="#111" stroke-width="0.55"/>
<path d="M98.80 267.00 L115.40 267.00 L133.40 257.70 L150.20 245.80 L166.60 238.90 L184.20 233.70" stroke="#111" stroke-width="0.85" fill="none"/>
<path d="M98.80 275.60 L115.40 277.10 L133.40 276.50 L150.20 273.60 L166.60 267.70 L184.20 261.90" stroke="#111" stroke-width="0.85" fill="none"/>
<rect x="66.35" y="270.35" width="3.7" height="3.7" fill="#fff" stroke="#111" stroke-width="0.85"/>
<rect x="96.95" y="265.15" width="3.7" height="3.7" fill="#fff" stroke="#111" stroke-width="0.85"/>
<rect x="113.55" y="265.15" width="3.7" height="3.7" fill="#fff" stroke="#111" stroke-width="0.85"/>
<rect x="131.55" y="255.85" width="3.7" height="3.7" fill="#fff" stroke="#111" stroke-width="0.85"/>
<rect x="148.35" y="243.95" width="3.7" height="3.7" fill="#fff" stroke="#111" stroke-width="0.85"/>
<rect x="164.75" y="237.05" width="3.7" height="3.7" fill="#fff" stroke="#111" stroke-width="0.85"/>
<rect x="182.35" y="231.85" width="3.7" height="3.7" fill="#fff" stroke="#111" stroke-width="0.85"/>
<circle cx="68.20" cy="275.40" r="2.45" fill="#fff" stroke="#111" stroke-width="0.85"/>
<circle cx="98.80" cy="275.60" r="2.45" fill="#fff" stroke="#111" stroke-width="0.85"/>
<circle cx="115.40" cy="277.10" r="2.45" fill="#fff" stroke="#111" stroke-width="0.85"/>
<circle cx="133.40" cy="276.50" r="2.45" fill="#fff" stroke="#111" stroke-width="0.85"/>
<circle cx="150.20" cy="273.60" r="2.45" fill="#fff" stroke="#111" stroke-width="0.85"/>
<circle cx="166.60" cy="267.70" r="2.45" fill="#fff" stroke="#111" stroke-width="0.85"/>
<circle cx="184.20" cy="261.90" r="2.45" fill="#fff" stroke="#111" stroke-width="0.85"/>
<line x1="58.20" y1="285.60" x2="58.20" y2="336.20" stroke="#222" stroke-width="0.8"/>
<line x1="57.80" y1="336.20" x2="194.80" y2="336.20" stroke="#111" stroke-width="1.0"/>
<line x1="56.80" y1="290.60" x2="58.20" y2="290.60" stroke="#111" stroke-width="0.6"/>
<text x="56.60" y="292.69" font-size="5.8" text-anchor="end" style="stroke-width:0.28px">80</text>
<line x1="56.80" y1="313.30" x2="58.20" y2="313.30" stroke="#111" stroke-width="0.6"/>
<text x="56.60" y="315.39" font-size="5.8" text-anchor="end" style="stroke-width:0.28px">40</text>
<line x1="56.80" y1="335.80" x2="58.20" y2="335.80" stroke="#111" stroke-width="0.6"/>
<text x="56.60" y="337.89" font-size="5.8" text-anchor="end" style="stroke-width:0.28px">0</text>
<line x1="57.20" y1="301.90" x2="58.20" y2="301.90" stroke="#111" stroke-width="0.5"/>
<line x1="57.20" y1="324.60" x2="58.20" y2="324.60" stroke="#111" stroke-width="0.5"/>
<path d="M98.80 329.10 L115.40 328.70 L133.40 324.00 L150.20 316.40 L166.60 314.90 L184.20 288.00" stroke="#111" stroke-width="0.85" fill="none"/>
<path d="M98.80 332.50 L115.40 332.50 L133.40 331.40 L150.20 331.20 L166.60 331.40 L184.20 325.50" stroke="#111" stroke-width="0.85" fill="none"/>
<rect x="68.75" y="327.35" width="3.7" height="3.7" fill="#fff" stroke="#111" stroke-width="0.85"/>
<rect x="96.95" y="327.25" width="3.7" height="3.7" fill="#fff" stroke="#111" stroke-width="0.85"/>
<rect x="113.55" y="326.85" width="3.7" height="3.7" fill="#fff" stroke="#111" stroke-width="0.85"/>
<rect x="131.55" y="322.15" width="3.7" height="3.7" fill="#fff" stroke="#111" stroke-width="0.85"/>
<rect x="148.35" y="314.55" width="3.7" height="3.7" fill="#fff" stroke="#111" stroke-width="0.85"/>
<rect x="164.75" y="313.05" width="3.7" height="3.7" fill="#fff" stroke="#111" stroke-width="0.85"/>
<rect x="182.35" y="286.15" width="3.7" height="3.7" fill="#fff" stroke="#111" stroke-width="0.85"/>
<circle cx="70.60" cy="332.80" r="2.45" fill="#fff" stroke="#111" stroke-width="0.85"/>
<circle cx="98.80" cy="332.50" r="2.45" fill="#fff" stroke="#111" stroke-width="0.85"/>
<circle cx="115.40" cy="332.50" r="2.45" fill="#fff" stroke="#111" stroke-width="0.85"/>
<circle cx="133.40" cy="331.40" r="2.45" fill="#fff" stroke="#111" stroke-width="0.85"/>
<circle cx="150.20" cy="331.20" r="2.45" fill="#fff" stroke="#111" stroke-width="0.85"/>
<circle cx="166.60" cy="331.40" r="2.45" fill="#fff" stroke="#111" stroke-width="0.85"/>
<circle cx="184.20" cy="325.50" r="2.45" fill="#fff" stroke="#111" stroke-width="0.85"/>
<line x1="70.60" y1="336.20" x2="70.60" y2="337.60" stroke="#111" stroke-width="0.5"/>
<line x1="98.80" y1="336.20" x2="98.80" y2="337.60" stroke="#111" stroke-width="0.5"/>
<line x1="115.40" y1="336.20" x2="115.40" y2="337.60" stroke="#111" stroke-width="0.5"/>
<line x1="133.40" y1="336.20" x2="133.40" y2="337.60" stroke="#111" stroke-width="0.5"/>
<line x1="150.20" y1="336.20" x2="150.20" y2="337.60" stroke="#111" stroke-width="0.5"/>
<line x1="166.60" y1="336.20" x2="166.60" y2="337.60" stroke="#111" stroke-width="0.5"/>
<line x1="184.20" y1="336.20" x2="184.20" y2="337.60" stroke="#111" stroke-width="0.5"/>
<text x="99.10" y="343.72" font-size="5.6" text-anchor="middle" style="stroke-width:0.28px">0.01</text>
<text x="115.70" y="343.72" font-size="5.6" text-anchor="middle" style="stroke-width:0.28px">0.03</text>
<text x="133.70" y="343.72" font-size="5.6" text-anchor="middle" style="stroke-width:0.28px">0.1</text>
<text x="150.50" y="343.72" font-size="5.6" text-anchor="middle" style="stroke-width:0.28px">0.3</text>
<text x="166.90" y="343.72" font-size="5.6" text-anchor="middle" style="stroke-width:0.28px">1</text>
<text x="184.50" y="343.72" font-size="5.6" text-anchor="middle" style="stroke-width:0.28px">3</text>
<text x="72.20" y="343.09" font-size="5.8" text-anchor="middle" style="stroke-width:0.28px">no</text>
<text x="72.50" y="349.69" font-size="5.8" text-anchor="middle" textLength="28" lengthAdjust="spacingAndGlyphs" style="stroke-width:0.28px">stimulation</text>
<text x="130.80" y="353.99" font-size="5.8" text-anchor="middle" textLength="64" lengthAdjust="spacingAndGlyphs" style="stroke-width:0.28px">stimulating cell to CTL  ratio</text>
<text transform="translate(34.50 254.60) rotate(-90)" x="0" y="2.30" font-size="6.4" text-anchor="middle" textLength="29.4" lengthAdjust="spacingAndGlyphs">% CCR7 +</text>
<text transform="translate(44.30 254.00) rotate(-90)" x="0" y="2.02" font-size="5.6" text-anchor="middle" textLength="56" lengthAdjust="spacingAndGlyphs" style="stroke-width:0.28px">2 days after stimulation</text>
<text transform="translate(39.60 311.00) rotate(-90)" x="0" y="1.87" font-size="5.2" text-anchor="middle" textLength="34.6" lengthAdjust="spacingAndGlyphs" style="stroke-width:0.28px">expansion (x)</text>
<text transform="translate(45.00 311.00) rotate(-90)" x="0" y="1.87" font-size="5.2" text-anchor="middle" textLength="36" lengthAdjust="spacingAndGlyphs" style="stroke-width:0.28px">from day 2 to 5</text>
<text x="232.80" y="258.29" font-size="5.8" font-weight="bold" class="b" text-anchor="middle" textLength="43.5" lengthAdjust="spacingAndGlyphs">Interval between</text>
<text x="233.20" y="264.89" font-size="5.8" font-weight="bold" class="b" text-anchor="middle" textLength="32.5" lengthAdjust="spacingAndGlyphs">stimulations</text>
<line x1="210.80" y1="269.00" x2="257.80" y2="269.00" stroke="#000" stroke-width="1.2"/>
<rect x="211.55" y="276.35" width="3.3" height="3.3" fill="#fff" stroke="#111" stroke-width="0.85"/>
<text x="220.20" y="280.09" font-size="5.8" font-weight="bold" class="b" textLength="19.8" lengthAdjust="spacingAndGlyphs">25 days</text>
<circle cx="212.60" cy="289.60" r="2.45" fill="#fff" stroke="#111" stroke-width="0.85"/>
<text x="220.20" y="291.89" font-size="5.8" font-weight="bold" class="b" textLength="19.8" lengthAdjust="spacingAndGlyphs">12 days</text>
</g>
</svg>
</body>
</html>
